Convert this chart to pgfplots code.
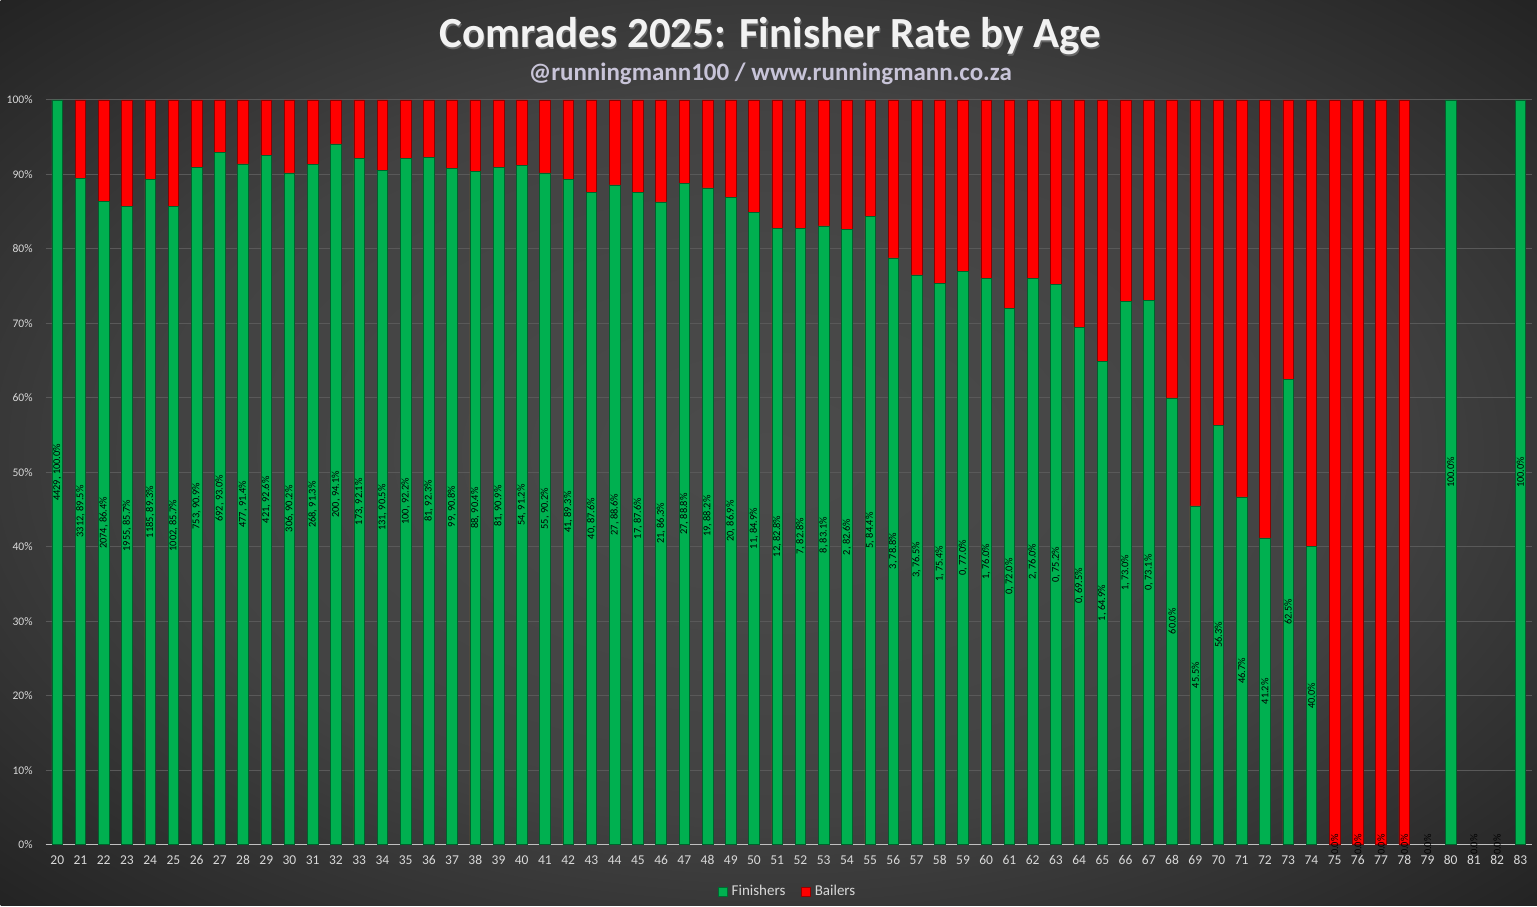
\documentclass[border=0pt]{standalone}
\usepackage{fontspec}
\setmainfont{Carlito}
\usepackage{pgfplots}
\pgfplotsset{compat=1.18}
\definecolor{fgreen}{HTML}{00B050}
\definecolor{fred}{HTML}{FF0000}
\definecolor{bgA}{HTML}{4B4B4B}
\definecolor{bgB}{HTML}{424242}
\definecolor{bgC}{HTML}{222222}
\definecolor{gridc}{HTML}{595959}
\definecolor{axc}{HTML}{BFBFBF}
\definecolor{tickc}{HTML}{D9D9D9}
\definecolor{subc}{HTML}{C8C4D8}
\pgfdeclareradialshading{bgshade}{\pgfpoint{0bp}{0bp}}{color(0bp)=(bgA); color(20bp)=(bgB); color(36bp)=(bgC); color(50bp)=(bgC)}
\begin{document}
\begin{tikzpicture}
\shade[shading=bgshade] (0,0) rectangle (768.5pt,453pt);
\node[font=\bfseries\fontsize{21.5}{25}\selectfont, text=black!60] at (385.6pt,434.2pt) {Comrades 2025: Finisher Rate by Age};
\node[font=\bfseries\fontsize{21.5}{25}\selectfont, text=white!95!black] at (385pt,434.8pt) {Comrades 2025: Finisher Rate by Age};
\node[font=\bfseries\fontsize{12.5}{15}\selectfont, text=subc] at (385pt,416.3pt) {@runningmann100 / www.runningmann.co.za};
\begin{axis}[
  at={(22.5pt,30.5pt)}, anchor=south west, scale only axis,
  width=743.5pt, height=372.5pt,
  xmin=19.5, xmax=83.5, ymin=0, ymax=100,
  xtick={20,...,83}, ytick={0,10,...,100},
  yticklabel={\pgfmathprintnumber{\tick}\%},
  /pgf/number format/assume math mode=true,
  ymajorgrids, grid style={line width=0.5pt, color=gridc},
  axis x line*=bottom, axis y line*=left,
  x axis line style={draw=axc, line width=0.6pt, -},
  y axis line style={draw=none},
  major tick length=0pt,
  xticklabel style={font=\fontsize{6.75}{8}\selectfont, text=tickc, yshift=-2pt},
  yticklabel style={font=\fontsize{5.8}{7}\selectfont, text=tickc, xshift=-3pt},
  clip=false,
  legend style={at={(axis description cs:0.5,-0.063)}, anchor=center, draw=none, fill=none,
    legend columns=2, font=\fontsize{7.5}{9}\selectfont, text=tickc,
    /tikz/every even column/.append style={column sep=6pt}},
  legend image code/.code={\draw[#1] (0pt,-2.2pt) rectangle (4.4pt,2.2pt);},
]
\addlegendimage{fill=fgreen, draw=fgreen!60!black, line width=0.3pt}
\addlegendentry{Finishers}
\addlegendimage{fill=fred, draw=fred!60!black, line width=0.3pt}
\addlegendentry{Bailers}

\addplot[ybar, bar width=5.3pt, bar shift=0pt, fill=fred, draw=fred!55!black, line width=0.3pt, forget plot] coordinates {
(21,100)(22,100)(23,100)(24,100)(25,100)(26,100)(27,100)(28,100)(29,100)(30,100)
(31,100)(32,100)(33,100)(34,100)(35,100)(36,100)(37,100)(38,100)(39,100)(40,100)
(41,100)(42,100)(43,100)(44,100)(45,100)(46,100)(47,100)(48,100)(49,100)(50,100)
(51,100)(52,100)(53,100)(54,100)(55,100)(56,100)(57,100)(58,100)(59,100)(60,100)
(61,100)(62,100)(63,100)(64,100)(65,100)(66,100)(67,100)(68,100)(69,100)(70,100)
(71,100)(72,100)(73,100)(74,100)(75,100)(76,100)(77,100)(78,100)
};

\addplot[ybar, bar width=5.3pt, bar shift=0pt, fill=fgreen, draw=fgreen!55!black, line width=0.3pt, forget plot] coordinates {
(20,100)(21,89.5)(22,86.4)(23,85.7)(24,89.3)(25,85.7)(26,90.9)(27,93.0)(28,91.4)(29,92.6)
(30,90.2)(31,91.3)(32,94.1)(33,92.1)(34,90.5)(35,92.2)(36,92.3)(37,90.8)(38,90.4)(39,90.9)
(40,91.2)(41,90.2)(42,89.3)(43,87.6)(44,88.6)(45,87.6)(46,86.3)(47,88.8)(48,88.2)(49,86.9)
(50,84.9)(51,82.8)(52,82.8)(53,83.1)(54,82.6)(55,84.4)(56,78.8)(57,76.5)(58,75.4)(59,77.0)
(60,76.0)(61,72.0)(62,76.0)(63,75.2)(64,69.5)(65,64.9)(66,73.0)(67,73.1)(68,60.0)(69,45.5)
(70,56.3)(71,46.7)(72,41.2)(73,62.5)(74,40.0)(80,100)(83,100)
};

\addplot[draw=none, mark=none, nodes near coords, point meta=explicit symbolic,
  every node near coord/.append style={rotate=90, anchor=center, inner sep=0pt,
    font=\fontsize{5.2}{6}\selectfont, text=black},
  forget plot] coordinates {
(20,50)[4429, 100.0\%]
(21,44.75)[3312, 89.5\%]
(22,43.2)[2074, 86.4\%]
(23,42.85)[1955, 85.7\%]
(24,44.65)[1185, 89.3\%]
(25,42.85)[1002, 85.7\%]
(26,45.45)[753, 90.9\%]
(27,46.5)[692, 93.0\%]
(28,45.7)[477, 91.4\%]
(29,46.3)[421, 92.6\%]
(30,45.1)[306, 90.2\%]
(31,45.65)[268, 91.3\%]
(32,47.05)[200, 94.1\%]
(33,46.05)[173, 92.1\%]
(34,45.25)[131, 90.5\%]
(35,46.1)[100, 92.2\%]
(36,46.15)[81, 92.3\%]
(37,45.4)[99, 90.8\%]
(38,45.2)[88, 90.4\%]
(39,45.45)[81, 90.9\%]
(40,45.6)[54, 91.2\%]
(41,45.1)[55, 90.2\%]
(42,44.65)[41, 89.3\%]
(43,43.8)[40, 87.6\%]
(44,44.3)[27, 88.6\%]
(45,43.8)[17, 87.6\%]
(46,43.15)[21, 86.3\%]
(47,44.4)[27, 88.8\%]
(48,44.1)[19, 88.2\%]
(49,43.45)[20, 86.9\%]
(50,42.45)[11, 84.9\%]
(51,41.4)[12, 82.8\%]
(52,41.4)[7, 82.8\%]
(53,41.55)[8, 83.1\%]
(54,41.3)[2, 82.6\%]
(55,42.2)[5, 84.4\%]
(56,39.4)[3, 78.8\%]
(57,38.25)[3, 76.5\%]
(58,37.7)[1, 75.4\%]
(59,38.5)[0, 77.0\%]
(60,38)[1, 76.0\%]
(61,36)[0, 72.0\%]
(62,38)[2, 76.0\%]
(63,37.6)[0, 75.2\%]
(64,34.75)[0, 69.5\%]
(65,32.45)[1, 64.9\%]
(66,36.5)[1, 73.0\%]
(67,36.55)[0, 73.1\%]
(68,30)[60.0\%]
(69,22.75)[45.5\%]
(70,28.15)[56.3\%]
(71,23.35)[46.7\%]
(72,20.6)[41.2\%]
(73,31.25)[62.5\%]
(74,20)[40.0\%]
(75,0)[0.0\%]
(76,0)[0.0\%]
(77,0)[0.0\%]
(78,0)[0.0\%]
(79,0)[0.0\%]
(80,50)[100.0\%]
(81,0)[0.0\%]
(82,0)[0.0\%]
(83,50)[100.0\%]
};
\end{axis}
\end{tikzpicture}
\end{document}
